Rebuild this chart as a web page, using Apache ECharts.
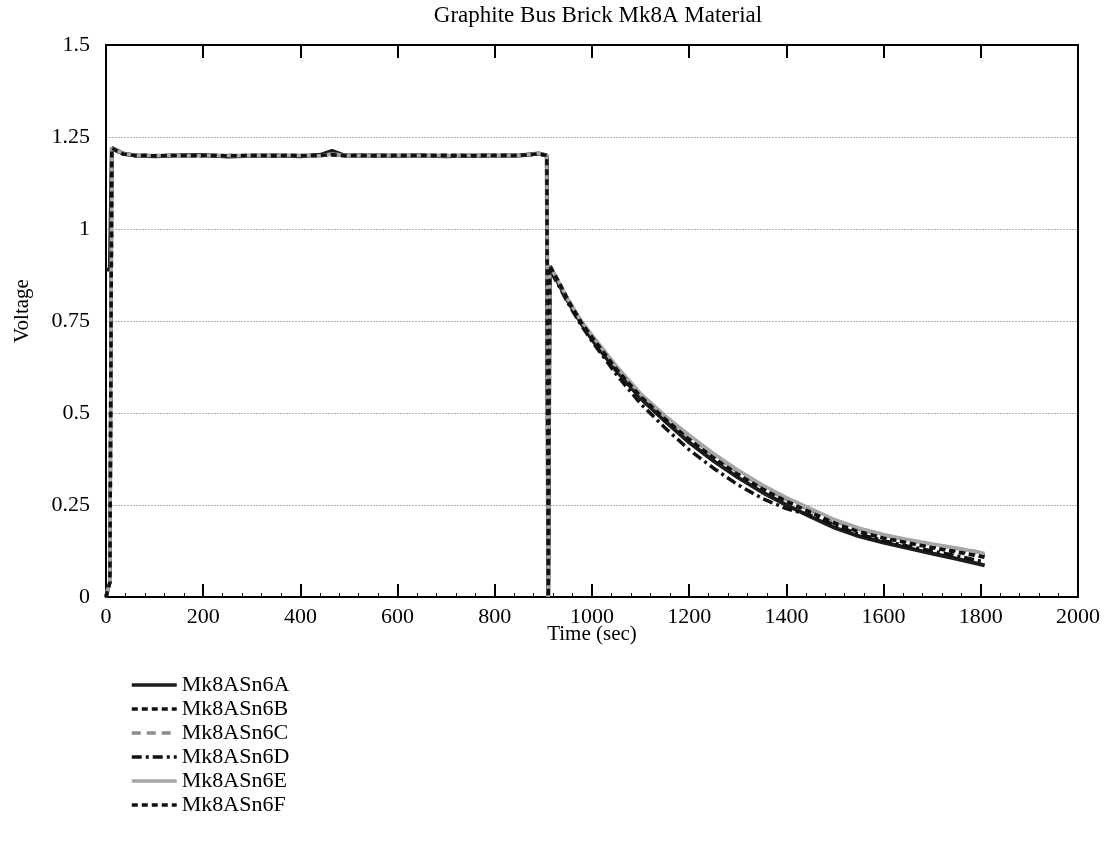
<!DOCTYPE html>
<html>
<head>
<meta charset="utf-8">
<script src="https://cdn.jsdelivr.net/npm/echarts@6/dist/echarts.min.js"></script>
<style>
html,body{margin:0;padding:0;background:#fff;}
#chart{width:1111px;height:844px;}
</style>
</head>
<body>
<div id="chart"></div>
<script>
// ---- data ----
var seriesNames = ['Mk8ASn6A','Mk8ASn6B','Mk8ASn6C','Mk8ASn6D','Mk8ASn6E','Mk8ASn6F'];
var xTicks = [0,200,400,600,800,1000,1200,1400,1600,1800,2000];
var yTicks = [0,0.25,0.5,0.75,1,1.25,1.5];

var timeSec = [0,4,8,12,20,35,60,100,150,200,250,300,350,400,440,465,490,550,600,650,700,750,800,850,890,907,910,913,
  930,950,977,1000,1050,1100,1150,1200,1250,1300,1350,1400,1450,1500,1550,1600,1650,1700,1750,1808];

var voltA = [0.89,0.89,0.89,1.22,1.215,1.205,1.2,1.198,1.2,1.201,1.197,1.199,1.2,1.198,1.201,1.212,1.2,1.2,1.199,1.2,1.198,1.2,1.199,1.2,1.205,1.2,0.0,0.9,
  0.855,0.805,0.745,0.70,0.615,0.54,0.478,0.42,0.37,0.325,0.285,0.25,0.218,0.188,0.165,0.148,0.133,0.118,0.104,0.086];
var voltB = [0,0.02,0.04,1.22,1.214,1.204,1.2,1.199,1.199,1.2,1.198,1.2,1.2,1.199,1.2,1.202,1.199,1.2,1.2,1.199,1.2,1.199,1.2,1.2,1.204,1.2,0.0,0.9,
  0.86,0.81,0.75,0.708,0.622,0.547,0.486,0.43,0.38,0.335,0.296,0.262,0.232,0.203,0.18,0.163,0.15,0.137,0.126,0.112];
var voltC = [0,0.03,0.04,1.22,1.213,1.205,1.2,1.2,1.198,1.2,1.199,1.2,1.199,1.2,1.198,1.205,1.2,1.199,1.2,1.2,1.199,1.2,1.2,1.199,1.205,1.2,0.0,0.9,
  0.86,0.81,0.75,0.71,0.625,0.55,0.49,0.435,0.385,0.34,0.30,0.265,0.235,0.205,0.183,0.168,0.155,0.143,0.132,0.12];
var voltD = [0,0.02,0.04,1.22,1.214,1.204,1.2,1.199,1.2,1.199,1.2,1.198,1.2,1.199,1.2,1.203,1.2,1.2,1.199,1.2,1.2,1.199,1.2,1.2,1.204,1.2,0.0,0.89,
  0.85,0.80,0.74,0.695,0.605,0.525,0.46,0.40,0.35,0.305,0.268,0.24,0.222,0.195,0.17,0.153,0.138,0.125,0.112,0.095];
var voltE = [0,0.02,0.04,1.22,1.215,1.205,1.2,1.2,1.199,1.2,1.2,1.199,1.2,1.2,1.199,1.204,1.2,1.2,1.2,1.199,1.2,1.2,1.199,1.2,1.205,1.2,0.0,0.9,
  0.86,0.81,0.752,0.712,0.628,0.553,0.493,0.44,0.39,0.345,0.305,0.27,0.24,0.21,0.187,0.17,0.156,0.144,0.133,0.118];
var voltF = [0,0.02,0.04,1.22,1.214,1.204,1.2,1.199,1.2,1.2,1.199,1.2,1.199,1.2,1.2,1.202,1.2,1.199,1.2,1.2,1.2,1.199,1.2,1.2,1.204,1.2,0.0,0.9,
  0.86,0.808,0.748,0.706,0.62,0.545,0.484,0.428,0.378,0.333,0.294,0.26,0.23,0.2,0.177,0.16,0.147,0.134,0.122,0.108];

var allVolts = [voltA, voltB, voltC, voltD, voltE, voltF];

// ---- styles ----
var styles = [
  {color:'#1c1c1c', width:4, type:'solid'},
  {color:'#111111', width:3.5, type:[6,4]},
  {color:'#8c8c8c', width:3.5, type:[9,6]},
  {color:'#111111', width:3.5, type:[10,4,3,4]},
  {color:'#a6a6a6', width:3.5, type:'solid'},
  {color:'#111111', width:3.5, type:[6,4]}
];

function pairs(ts, vs){
  var out = [];
  for (var i = 0; i < ts.length; i++) out.push([ts[i], vs[i]]);
  return out;
}

var series = seriesNames.map(function(name, i){
  return {
    name: name,
    type: 'line',
    data: pairs(timeSec, allVolts[i]),
    symbol: 'none',
    showSymbol: false,
    animation: false,
    lineStyle: {color: styles[i].color, width: styles[i].width, type: styles[i].type},
    itemStyle: {color: styles[i].color}
  };
});

var FONT = '"Liberation Serif", "DejaVu Serif", serif';

var chart = echarts.init(document.getElementById('chart'), null, {renderer:'canvas'});
chart.setOption({
  backgroundColor: '#ffffff',
  animation: false,
  textStyle: {fontFamily: FONT, color: '#000'},
  title: {
    text: 'Graphite Bus Brick Mk8A Material',
    left: 593,
    textAlign: 'center',
    top: -1,
    textStyle: {fontFamily: FONT, fontSize: 23, fontWeight: 'normal', color: '#000'}
  },
  grid: {left: 106, right: 33, top: 45, bottom: 247, show: false},
  legend: {
    orient: 'vertical',
    left: 130,
    top: 674,
    padding: 0,
    itemWidth: 45,
    itemHeight: 14,
    itemGap: 2,
    data: seriesNames,
    itemStyle: {opacity: 0},
    lineStyle: {width: 3.5},
    textStyle: {fontFamily: FONT, fontSize: 22, color: '#000', lineHeight: 22}
  },
  xAxis: [{
    type: 'value',
    position: 'bottom',
    min: 0, max: 2000, interval: 200,
    name: 'Time (sec)',
    nameLocation: 'middle',
    nameGap: 27,
    nameMoveOverlap: false,
    nameTextStyle: {fontFamily: FONT, fontSize: 21, color: '#000'},
    axisLine: {show: true, onZero: false, lineStyle: {color: '#000', width: 2}},
    axisTick: {show: true, inside: true, length: 13, lineStyle: {color: '#000', width: 2}},
    minorTick: {show: true, splitNumber: 5, length: 4, lineStyle: {color: '#000', width: 1}},
    axisLabel: {fontFamily: FONT, fontSize: 22, color: '#000', margin: 9, formatter: function(v){ return String(v); }},
    splitLine: {show: false}
  },{
    type: 'value',
    position: 'top',
    min: 0, max: 2000, interval: 200,
    axisLine: {show: true, onZero: false, lineStyle: {color: '#000', width: 2}},
    axisTick: {show: true, inside: true, length: 13, lineStyle: {color: '#000', width: 2}},
    axisLabel: {show: false},
    splitLine: {show: false}
  }],
  yAxis: [{
    type: 'value',
    position: 'left',
    min: 0, max: 1.5, interval: 0.25,
    name: 'Voltage',
    nameLocation: 'middle',
    nameGap: 73,
    nameRotate: 90,
    nameMoveOverlap: false,
    nameTextStyle: {fontFamily: FONT, fontSize: 21, color: '#000', padding: [0, 0, 0, 20]},
    axisLine: {show: true, onZero: false, lineStyle: {color: '#000', width: 2}},
    axisTick: {show: false},
    axisLabel: {fontFamily: FONT, fontSize: 22, color: '#000', margin: 16, formatter: function(v){ return String(v); }},
    splitLine: {show: true, lineStyle: {color: '#b0b0b0', width: 1, type: [2,1]}}
  },{
    type: 'value',
    position: 'right',
    min: 0, max: 1.5, interval: 0.25,
    axisLine: {show: true, onZero: false, lineStyle: {color: '#000', width: 2}},
    axisTick: {show: false},
    axisLabel: {show: false},
    splitLine: {show: false}
  }],
  series: series
});
</script>
</body>
</html>
